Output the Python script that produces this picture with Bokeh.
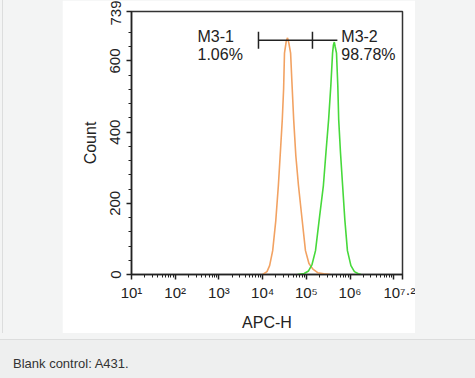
from bokeh.plotting import figure
from bokeh.models import Range1d, FixedTicker, Label, Div
from bokeh.layouts import row, column
from bokeh.embed import file_html
from bokeh.resources import INLINE

# ---- data (APC-H exponent = log10 of channel value, count per bin) ----
orange_exp = [4.00, 4.10, 4.16, 4.23, 4.30, 4.36, 4.41, 4.45, 4.48, 4.50, 4.54, 4.57,
              4.60, 4.64, 4.67, 4.71, 4.76, 4.82, 4.90, 4.98, 5.06, 5.15, 5.26, 5.40, 5.55]
orange_cnt = [0, 8, 25, 67, 150, 250, 352, 436, 521, 622, 655, 665,
              650, 622, 541, 436, 333, 250, 158, 67, 31, 15, 5, 2, 0]
green_exp = [4.80, 4.95, 5.05, 5.13, 5.21, 5.30, 5.39, 5.45, 5.51, 5.56, 5.60, 5.62, 5.64,
             5.66, 5.69, 5.72, 5.74, 5.78, 5.83, 5.88, 5.94, 6.02, 6.10, 6.19, 6.25]
green_cnt = [0, 3, 10, 28, 67, 160, 250, 345, 436, 530, 622, 645, 653,
             640, 622, 530, 436, 345, 250, 155, 67, 25, 8, 2, 0]

gate_names = ["M3-1", "M3-2"]
gate_pcts = ["1.06%", "98.78%"]
gate_lo_exp = [3.905, 5.14]
gate_hi_exp = [5.14, 5.71]
gate_level = 658

y_ticks = [0, 200, 400, 600, 739]
x_tick_exp = [1, 2, 3, 4, 5, 6, 7, 7.2]
x_tick_labels = ["10¹", "10²", "10³", "10⁴", "10⁵", "10⁶", "", "10⁷·²"]

FONT = "Liberation Sans"
AX = "#222222"

fig = figure(width=353, height=333, x_axis_type="log",
             x_range=Range1d(10 ** 1, 10 ** 7.2), y_range=Range1d(0, 739),
             output_backend="svg", toolbar_location=None,
             min_border_left=69, min_border_right=13, min_border_top=11, min_border_bottom=56,
             background_fill_color="white", border_fill_color="white")
fig.grid.visible = False
fig.outline_line_color = "#333333"
fig.outline_line_width = 1.5

# histograms
fig.line([10 ** e for e in orange_exp], orange_cnt, line_color="#f2a262", line_width=1.6)
fig.line([10 ** e for e in green_exp], green_cnt, line_color="#47d93b", line_width=1.6)

# gates
for lo, hi in zip(gate_lo_exp, gate_hi_exp):
    fig.segment(x0=[10 ** lo], y0=[gate_level], x1=[10 ** hi], y1=[gate_level],
                line_color="#222222", line_width=1.5)
fig.segment(x0=[10 ** gate_lo_exp[0], 10 ** gate_lo_exp[1]], y0=[gate_level - 24] * 2,
            x1=[10 ** gate_lo_exp[0], 10 ** gate_lo_exp[1]], y1=[gate_level + 24] * 2,
            line_color="#222222", line_width=1.5)

label_pos = [(10 ** 2.51, 669, 617), (10 ** 5.80, 669, 617)]
for (lx, y1, y2), nm, pc in zip(label_pos, gate_names, gate_pcts):
    for txt, yy in ((nm, y1), (pc, y2)):
        fig.add_layout(Label(x=lx, y=yy, text=txt, text_font=FONT, text_font_size="16px",
                             text_color="#222222", text_baseline="middle", text_align="left"))

# axes
minor_x = [m * 10 ** k for k in range(1, 7) for m in range(2, 10)]
fig.xaxis.ticker = FixedTicker(ticks=[10 ** e for e in x_tick_exp], minor_ticks=minor_x)
fig.xaxis.major_label_overrides = {10 ** e: t for e, t in zip(x_tick_exp, x_tick_labels)}
fig.yaxis.ticker = FixedTicker(ticks=y_ticks, minor_ticks=list(range(40, 700, 40)))
fig.yaxis.major_label_orientation = "vertical"
fig.xaxis.axis_label = "APC-H"
fig.yaxis.axis_label = "Count"
for ax in (fig.xaxis, fig.yaxis):
    ax.axis_line_color = AX
    ax.axis_line_width = 1.5
    ax.major_tick_line_color = AX
    ax.minor_tick_line_color = AX
    ax.major_tick_line_width = 1.5
    ax.major_tick_in = 0
    ax.major_tick_out = 5
    ax.minor_tick_in = 0
    ax.minor_tick_out = 3
    ax.major_label_text_font = FONT
    ax.major_label_text_color = AX
    ax.axis_label_text_font = FONT
    ax.axis_label_text_font_style = "normal"
    ax.axis_label_text_font_size = "16px"
    ax.axis_label_text_color = AX
fig.xaxis.major_label_text_font_size = "15px"
fig.yaxis.major_label_text_font_size = "15px"
fig.xaxis.major_label_standoff = 4
fig.yaxis.major_label_standoff = 6
fig.xaxis.axis_label_standoff = 10
fig.xaxis.axis_label_text_line_height = 0.9
fig.xaxis.major_label_text_line_height = 0.9
fig.yaxis.axis_label_standoff = 9

GRAY = "#f3f4f4"
left = Div(width=62, height=333, margin=0, styles={"background-color": GRAY},
           text='<div style="margin-left:2px;width:60px;height:333px;'
                'border-left:1px solid #dcdddd;background:#f3f4f4"></div>')
right = Div(width=60, height=333, margin=0, styles={"background-color": GRAY},
            text='<div style="width:60px;height:333px;background:#f3f4f4"></div>')
caption = Div(width=475, height=45, margin=0, styles={"background-color": GRAY},
              text='<div style="width:475px;height:6px;background:#f3f4f4"></div>'
                   '<div style="width:475px;height:39px;border-top:1px solid #dcdddd;'
                   'background:#eeefef;padding-left:13px;font-family:Liberation Sans,Arial;'
                   'font-size:13px;line-height:15px;color:#333;padding-top:16px;box-sizing:border-box">'
                   'Blank control: A431.</div>')

p = column(row(left, fig, right, spacing=0, styles={"background-color": GRAY}),
           caption, spacing=0, styles={"background-color": GRAY})

open("out.html", "w").write(file_html(p, INLINE))
